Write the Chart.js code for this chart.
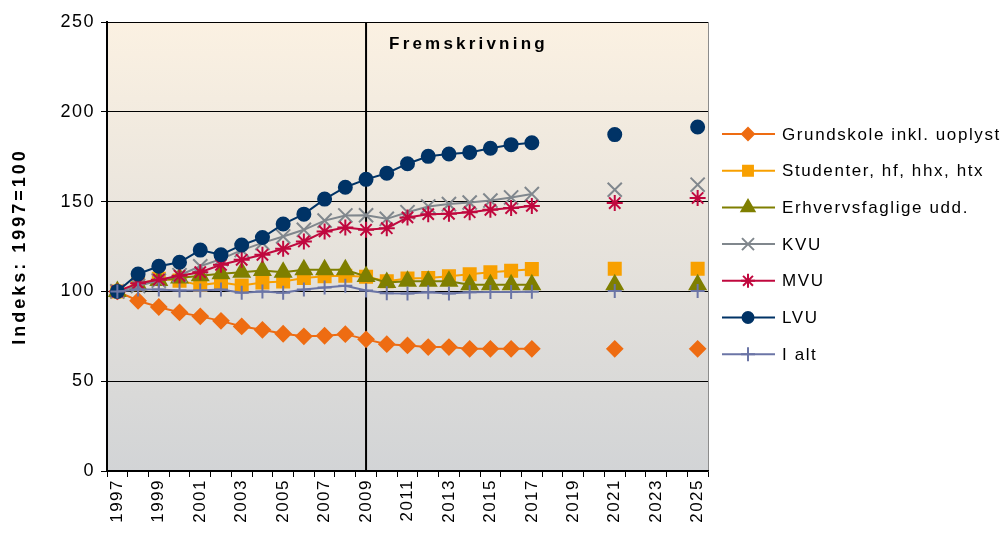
<!DOCTYPE html>
<html>
<head>
<meta charset="utf-8">
<script src="https://cdn.jsdelivr.net/npm/chart.js@4.4.1/dist/chart.umd.min.js"></script>
<style>
  html, body { margin: 0; padding: 0; background: #fff; }
  #c { display: block; }
</style>
</head>
<body>
<canvas id="c" width="1004" height="533"></canvas>
<script>
/* ── Data ───────────────────────────────────────────── */
const years = [];
for (let y = 1997; y <= 2025; y++) years.push(String(y));

// 1997–2017 observed, then projections for 2021 and 2025
const projYears  = ['2021', '2025'];
const grundskole = [100, 94.8, 91.3, 88.3, 86.1, 83.6, 80.5, 78.6, 76.4, 75, 75.3, 76.2, 73.3, 70.6, 69.9, 69, 69, 68, 68, 68, 68];
const grundProj  = [68, 68];
const studenter  = [100, 104, 107, 106, 103.5, 105, 103.3, 105, 105.5, 107.5, 108.5, 108.7, 108.2, 105.6, 107.2, 107.4, 108.4, 109.6, 110.6, 111.5, 112.4];
const studProj   = [112.6, 112.6];
const erhverv    = [100, 103.5, 106, 107.5, 108.7, 109.8, 110.6, 111.7, 110.6, 112, 112, 112, 108.3, 105, 105.6, 105.6, 105.6, 103.7, 103.7, 103.7, 103.7];
const erhvProj   = [103.7, 103.7];
const kvu        = [100, 103, 106, 109, 114, 118, 123, 127, 130.6, 134.3, 139.4, 142.3, 142.4, 140.4, 144.1, 147.3, 148.6, 149.5, 150.6, 152.3, 154.2];
const kvuProj    = [156.6, 159.4];
const mvu        = [100, 104.6, 106.5, 108.7, 110.7, 114.8, 117.6, 120.4, 123.7, 127.8, 133.4, 135.6, 134.3, 135.2, 141.2, 143, 143.2, 144.1, 145.4, 146.4, 147.6];
const mvuProj    = [149.2, 152];
const lvu        = [100, 109.7, 114, 116.2, 123, 120.4, 125.8, 130, 137.5, 143, 151.4, 158, 162.4, 165.8, 171.1, 175.2, 176.5, 177.4, 179.7, 181.7, 182.8];
const lvuProj    = [187.3, 191.5];
const ialt       = [100, 101, 101, 100.5, 100.5, 101, 99.3, 100, 99.3, 101, 102.2, 103.2, 100.5, 99, 98.8, 99.5, 98.8, 99.5, 99.6, 99.7, 99.8];
const ialtProj   = [100.2, 100.2];

const seriesNames = ['Grundskole inkl. uoplyst', 'Studenter, hf, hhx, htx', 'Erhvervsfaglige udd.', 'KVU', 'MVU', 'LVU', 'I alt'];
const yTicks = [0, 50, 100, 150, 200, 250];

/* ── Helpers ────────────────────────────────────────── */
function fullSeries(obs, proj) {
  const out = years.map(() => null);
  obs.forEach((v, i) => { out[i] = v; });
  projYears.forEach((y, i) => { out[years.indexOf(y)] = proj[i]; });
  return out;
}

const styles = [
  { color: '#EE6C12', point: 'rectRot',  r: 7.5, lr: 6 },
  { color: '#F8A000', point: 'rect',     r: 8.5, lr: 7 },
  { color: '#7F7F00', point: 'triangle', r: 9,   lr: 7.5 },
  { color: '#80878D', point: 'crossRot', r: 10,  lr: 8.5 },
  { color: '#C0083E', point: 'star',     r: 8,   lr: 7 },
  { color: '#003366', point: 'circle',   r: 6.5, lr: 5.5 },
  { color: '#6B75A6', point: 'cross',    r: 7,   lr: 7 }
];
const values = [
  fullSeries(grundskole, grundProj), fullSeries(studenter, studProj), fullSeries(erhverv, erhvProj),
  fullSeries(kvu, kvuProj), fullSeries(mvu, mvuProj), fullSeries(lvu, lvuProj), fullSeries(ialt, ialtProj)
];

const datasets = seriesNames.map((name, i) => ({
  label: name,
  data: values[i],
  borderColor: styles[i].color,
  backgroundColor: styles[i].color,
  pointBorderColor: styles[i].color,
  pointBackgroundColor: styles[i].color,
  pointStyle: styles[i].point,
  pointRadius: styles[i].r,
  pointBorderWidth: 2,
  borderWidth: 2,
  spanGaps: false,
  tension: 0,
  order: seriesNames.length - i
}));

/* ── Plugins ────────────────────────────────────────── */
const spacing = {
  id: 'spacing',
  beforeUpdate(c) { c.ctx.letterSpacing = '1.5px'; },
  beforeDraw(c) { c.ctx.letterSpacing = '1.5px'; }
};

const background = {
  id: 'background',
  beforeDraw(c) {
    const { ctx, chartArea: a } = c;
    const g = ctx.createLinearGradient(0, a.top, 0, a.bottom);
    g.addColorStop(0, '#FBF1E2');
    g.addColorStop(1, '#D2D4D6');
    ctx.save();
    ctx.fillStyle = g;
    ctx.fillRect(a.left, a.top, a.right - a.left, a.bottom - a.top);
    ctx.strokeStyle = '#8C8C8C';
    ctx.lineWidth = 1;
    ctx.beginPath();
    ctx.moveTo(a.right + 0.5, a.top);
    ctx.lineTo(a.right + 0.5, a.bottom);
    ctx.stroke();
    // y axis title
    ctx.translate(20, (a.top + a.bottom) / 2);
    ctx.rotate(-Math.PI / 2);
    ctx.letterSpacing = '3px';
    ctx.font = 'bold 18px "Liberation Sans", Arial, sans-serif';
    ctx.fillStyle = '#000';
    ctx.textAlign = 'center';
    ctx.textBaseline = 'middle';
    ctx.fillText('Indeks: 1997=100', 0, 0);
    ctx.restore();
  }
};

const projection = {
  id: 'projection',
  beforeDatasetsDraw(c) {
    const { ctx, chartArea: a } = c;
    const x = c.scales.x.getPixelForValue(years.indexOf('2009'));
    ctx.save();
    ctx.strokeStyle = '#000';
    ctx.lineWidth = 2;
    ctx.beginPath();
    ctx.moveTo(x, a.top);
    ctx.lineTo(x, a.bottom);
    ctx.stroke();
    ctx.letterSpacing = '3.2px';
    ctx.fillStyle = '#000';
    ctx.font = 'bold 17px "Liberation Sans", Arial, sans-serif';
    ctx.textBaseline = 'middle';
    ctx.fillText('Fremskrivning', x + 23, a.top + 22);
    ctx.restore();
  }
};

const sideLegend = {
  id: 'sideLegend',
  afterDraw(c) {
    const ctx = c.ctx;
    ctx.save();
    ctx.letterSpacing = '1.6px';
    ctx.font = '17px "Liberation Sans", Arial, sans-serif';
    ctx.textBaseline = 'middle';
    seriesNames.forEach((name, i) => {
      const y = 134 + i * 36.7;
      const st = styles[i];
      ctx.strokeStyle = st.color;
      ctx.fillStyle = st.color;
      ctx.lineWidth = 2;
      ctx.beginPath();
      ctx.moveTo(722, y);
      ctx.lineTo(775, y);
      ctx.stroke();
      Chart.helpers.drawPoint(ctx, { pointStyle: st.point, radius: st.lr, borderWidth: 2 }, 748, y);
      ctx.fillStyle = '#000';
      ctx.fillText(name, 782, y + 1);
    });
    ctx.restore();
  }
};

/* ── Chart ──────────────────────────────────────────── */
const tickFont = { family: '"Liberation Sans", Arial, sans-serif', size: 18 };

new Chart(document.getElementById('c'), {
  type: 'line',
  data: { labels: years, datasets },
  options: {
    responsive: false,
    animation: false,
    events: [],
    layout: { padding: { top: 22, right: 296, left: 0, bottom: 0 } },
    plugins: { legend: { display: false }, tooltip: { enabled: false } },
    scales: {
      x: {
        type: 'category',
        offset: true,
        grid: { offset: true, drawOnChartArea: false, drawTicks: true, tickLength: 6, color: '#000' },
        border: { color: '#000', width: 1.5 },
        ticks: {
          autoSkip: false, maxRotation: 90, minRotation: 90, padding: 2,
          color: '#000', font: { ...tickFont, size: 17 },
          callback: (v, i) => (i % 2 === 0 ? years[i] : '')
        },
        afterFit: s => { s.height = 62; }
      },
      y: {
        min: 0, max: 250,
        afterBuildTicks: s => { s.ticks = yTicks.map(v => ({ value: v })); },
        ticks: { color: '#000', font: tickFont, padding: 6 },
        grid: { color: '#000', lineWidth: 1, tickLength: 6 },
        border: { color: '#000', width: 2 },
        afterFit: s => { s.width = 107; }
      }
    }
  },
  plugins: [spacing, background, projection, sideLegend]
});
</script>
</body>
</html>
